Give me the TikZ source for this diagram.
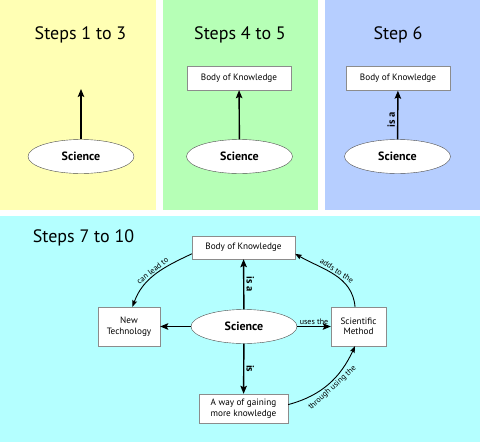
\documentclass[tikz,border=0pt]{standalone}
\usepackage{fontspec}
\setmainfont{PT Sans}
\usetikzlibrary{arrows.meta,shapes.geometric}
\definecolor{paneyellow}{RGB}{255,255,180}
\definecolor{panegreen}{RGB}{182,255,182}
\definecolor{paneblue}{RGB}{182,206,255}
\definecolor{panecyan}{RGB}{180,255,255}
\begin{document}
\begin{tikzpicture}[x=1pt,y=1pt,
    box/.style={draw=black!45,fill=white,inner sep=0pt,align=center,font=\fontsize{9.2}{10.5}\selectfont},
    sci/.style={ellipse,draw=black!70,fill=white,inner sep=0pt,minimum width=106pt,minimum height=34pt,font=\bfseries\fontsize{12}{14}\selectfont},
    title/.style={font=\fontsize{18}{21}\selectfont},
    arr/.style={-{Stealth[length=8pt,width=6.5pt,inset=1.5pt]},line width=1.4pt},
    curved/.style={-{Stealth[length=6.5pt,width=5pt,inset=1pt]},line width=0.9pt},
    lbl/.style={font=\fontsize{8}{9}\selectfont,inner sep=1.5pt},
    islbl/.style={font=\bfseries\fontsize{10.5}{12}\selectfont,inner sep=2pt}]
    \useasboundingbox (0,0) rectangle (480,-442);
    \fill[paneyellow] (0,0) rectangle (155.5,-210);
    \fill[panegreen] (162.5,0) rectangle (318,-210);
    \fill[paneblue] (325,0) rectangle (480,-210);
    \fill[panecyan] (0,-216) rectangle (480,-442);

    % steps 1 to 3
    \node[title] (t1) at (80.5,-35) {Steps 1 to 3};
    \node[sci] (sci1) at (81,-156.5) {Science};
    \coordinate (tip1) at (81,-89);
    \draw[arr] (sci1) to (tip1);

    % steps 4 to 5
    \node[title] (t2) at (240,-35) {Steps 4 to 5};
    \node[box,minimum width=104pt,minimum height=24pt] (bok2) at (239,-78) {Body of Knowledge};
    \node[sci] (sci2) at (239.5,-156.5) {Science};
    \draw[arr] (sci2) to (bok2);

    % step 6
    \node[title] (t3) at (398,-35) {Step 6};
    \node[box,minimum width=104pt,minimum height=24pt] (bok3) at (398,-78.5) {Body of Knowledge};
    \node[sci] (sci3) at (397.5,-156.5) {Science};
    \draw[arr] (sci3) to node[islbl,sloped,above,pos=0.4] {is a} (bok3);

    % steps 7 to 10
    \node[title] (t4) at (83.5,-237.5) {Steps 7 to 10};
    \node[box,minimum width=103pt,minimum height=23pt] (bok4) at (243.5,-247.5) {Body of Knowledge};
    \node[sci] (sci4) at (244,-326.5) {Science};
    \node[box,minimum width=62pt,minimum height=39pt] (tech) at (129,-326.5) {New\\Technology};
    \node[box,minimum width=55pt,minimum height=39pt] (method) at (358.5,-326.5) {Scientific\\Method};
    \node[box,minimum width=89pt,minimum height=29pt] (way) at (243.5,-408.5) {A way of gaining\\more knowledge};

    \draw[arr] (sci4) to node[islbl,sloped,above] {is a} (bok4);
    \draw[arr] (sci4) to (tech);
    \draw[arr] (sci4) to node[lbl,above] {uses the} (method);
    \draw[arr] (sci4) to node[islbl,rotate=-90,above] {is} (way);
    \draw[curved] (bok4.187) to[out=205,in=70] node[lbl,sloped,above] {can lead to} (tech.80);
    \draw[curved] (method.100) to[out=95,in=-30] node[lbl,sloped,above] {adds to the} (bok4.-7);
    \draw[curved] (way.5) to[out=15,in=245] node[lbl,sloped,below] {through using the} (method.260);
\end{tikzpicture}
\end{document}
